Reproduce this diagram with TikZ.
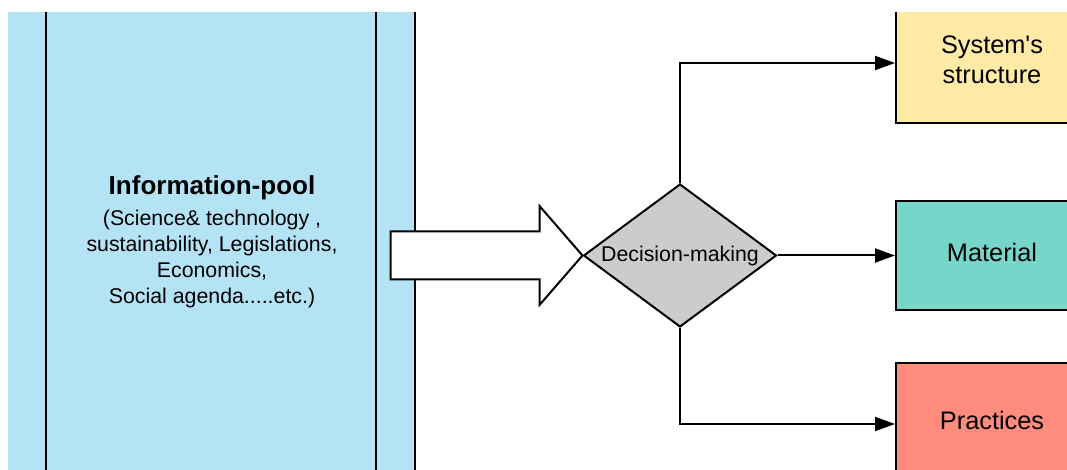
\documentclass[tikz,border=0pt]{standalone}
\usepackage{fontspec}
\setmainfont{Liberation Sans}
\usepackage{tikz}
\usetikzlibrary{positioning}
\usetikzlibrary{shapes.geometric}
\usetikzlibrary{arrows.meta}
\definecolor{pool_blue}{HTML}{B3E3F5}
\definecolor{struct_yellow}{HTML}{FFEBA5}
\definecolor{material_teal}{HTML}{76D6CA}
\definecolor{practice_red}{HTML}{FF8C7D}
\definecolor{decision_gray}{HTML}{CCCCCC}
\tikzset{
  chartnode/.style = {align=center, inner sep=0pt, text centered,
    line width=1.5pt},
  pool_node/.style = {chartnode, rectangle, draw=black, fill=pool_blue,
    minimum width=306pt, minimum height=367.5pt},
  pool_title/.style = {chartnode, font=\fontsize{19.5}{23}\selectfont\bfseries},
  pool_text/.style = {chartnode, font=\fontsize{16}{19.5}\selectfont},
  decision_node/.style = {chartnode, diamond, draw=black, fill=decision_gray,
    shape aspect=1.35, minimum width=144.75pt, minimum height=107.25pt,
    font=\fontsize{16}{19.5}\selectfont},
  result_node/.style = {chartnode, rectangle, draw=black, anchor=west,
    minimum width=144pt, text depth=5pt, font=\fontsize{19}{22.5}\selectfont},
  big_arrow/.style = {draw=black, fill=white, line width=1.5pt, line join=miter},
  flow_arrow/.style = {draw=black, line width=1.5pt,
    -{Triangle[length=15pt, width=10.5pt]}}
}
\begin{document}
\begin{tikzpicture}[x=0.75pt, y=-0.75pt]
  \useasboundingbox (0,0) rectangle (1067,470);
  \clip (8,13) rectangle (1067,470);
  \node [pool_node] (pool) at (211,245) {};
  \draw [line width=1.5pt] ([xshift=30pt]pool.north west) -- ([xshift=30pt]pool.south west);
  \draw [line width=1.5pt] ([xshift=-30pt]pool.north east) -- ([xshift=-30pt]pool.south east);
  \node [pool_text] (pool_body) at (212,258.5) {(Science\& technology ,\\
    sustainability, Legislations,\\ Economics,\\ Social agenda.....etc.)};
  \node [pool_title, above=5.5pt of pool_body] (pool_head) {Information-pool};

  \node [decision_node] (dec) at (680,255.5) {Decision-making};
  \draw [big_arrow] (dec.west) -- ++(-43,-49.5) -- ++(0,25.5) -- ++(-149,0)
    -- ++(0,48) -- ++(149,0) -- ++(0,25.5) -- cycle;

  \node [result_node, fill=struct_yellow, minimum height=90pt] (sys) at (895,63)
    {System\textquotesingle s\\structure};
  \node [result_node, fill=material_teal, minimum height=81pt] (mat) at (895,255.5)
    {Material};
  \node [result_node, fill=practice_red, minimum height=91.5pt] (prac) at (895,424)
    {Practices};

  \draw [flow_arrow] (dec.north) |- (sys.west);
  \draw [flow_arrow] (dec.east) -- (mat.west);
  \draw [flow_arrow] (dec.south) |- (prac.west);
\end{tikzpicture}
\end{document}
